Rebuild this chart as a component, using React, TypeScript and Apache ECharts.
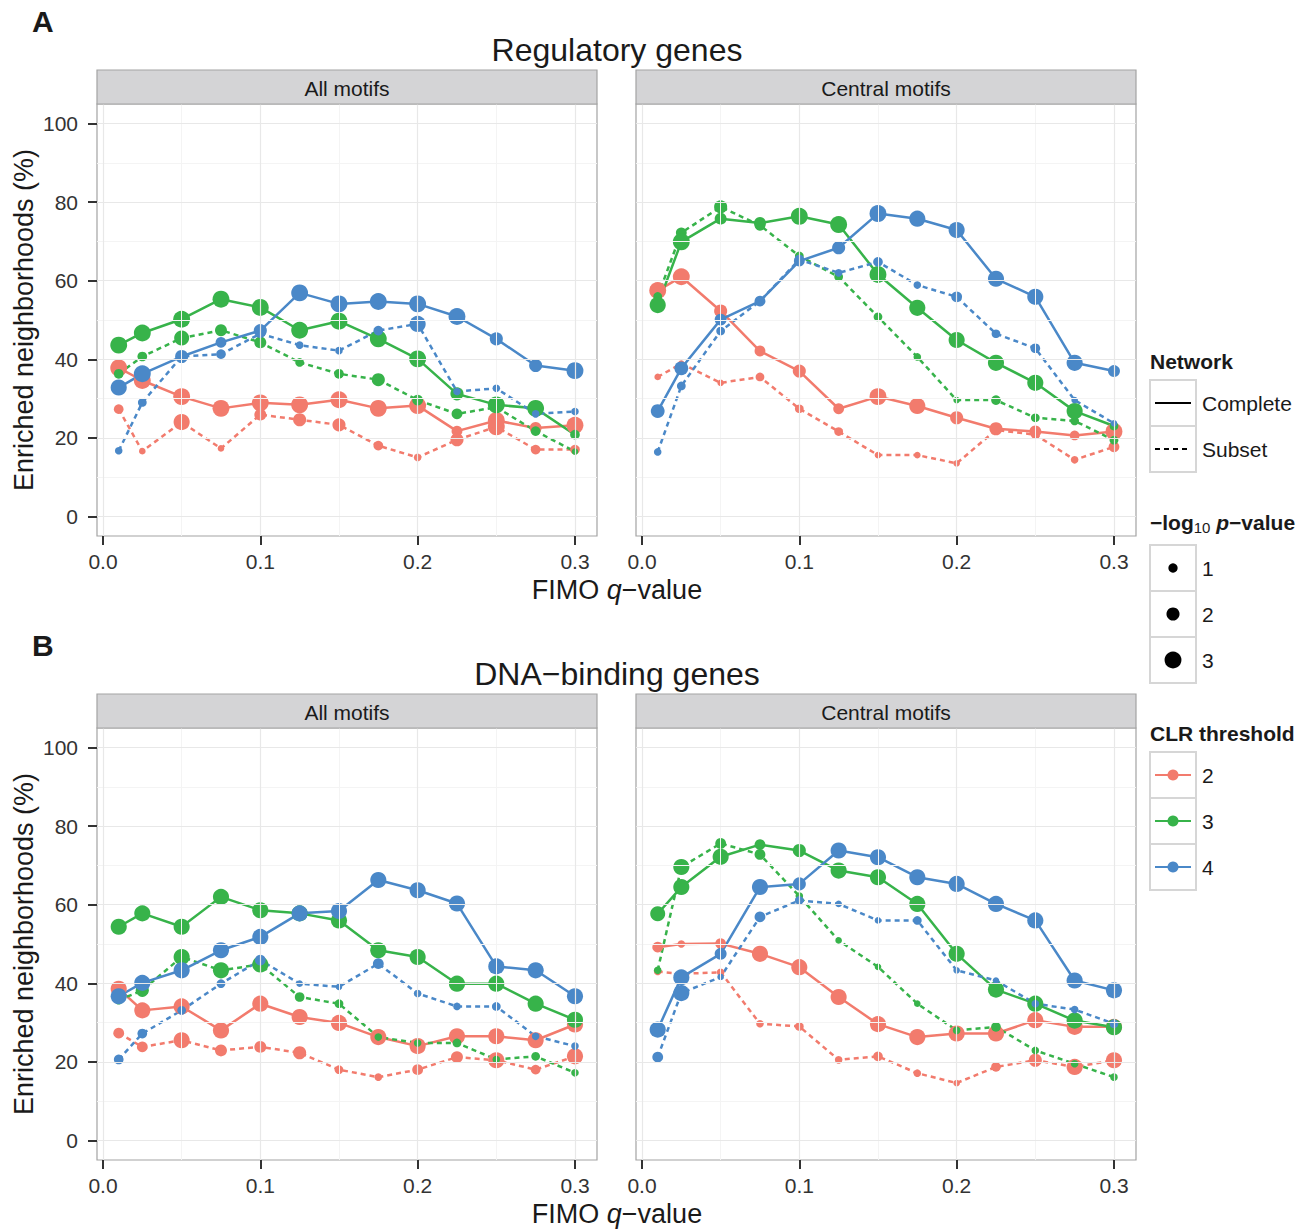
import React, { useEffect, useRef } from 'react';
import * as echarts from 'echarts';

// ---------- data ----------
const Q = [0.01, 0.025, 0.05, 0.075, 0.1, 0.125, 0.15, 0.175, 0.2, 0.225, 0.25, 0.275, 0.3];
const X_TICKS = [0, 0.1, 0.2, 0.3];
const Y_TICKS = [0, 20, 40, 60, 80, 100];
const X_MINOR = [0.05, 0.15, 0.25];
const Y_MINOR = [10, 30, 50, 70, 90];
const CLR_LEVELS = ['2', '3', '4'];
const NETWORKS = ['Complete', 'Subset'];
const PVALUE_LEVELS = [1, 2, 3];
const ROW_TITLES = ['Regulatory genes', 'DNA\u2212binding genes'];
const ROW_LETTERS = ['A', 'B'];
const STRIP_LABELS = ['All motifs', 'Central motifs'];

// Regulatory genes, All motifs
const REG_ALL_C2 = [37.8, 34.6, 30.5, 27.5, 28.9, 28.4, 29.7, 27.5, 28.2, 21.7, 24.4, 22.5, 23.2];
const REG_ALL_C2_P = [3, 3, 3, 3, 3, 3, 3, 3, 3, 1.4, 3, 1.7, 3];
const REG_ALL_S2 = [27.3, 16.6, 24.0, 17.3, 25.9, 24.6, 23.3, 18.0, 15.0, 19.5, 22.8, 17.0, 17.0];
const REG_ALL_S2_P = [1.1, 0.3, 2.8, 0.3, 1.7, 2, 2, 1.1, 0.55, 2, 3, 1.1, 1.1];
const REG_ALL_C3 = [43.6, 46.7, 50.2, 55.3, 53.2, 47.4, 49.7, 45.2, 40.1, 31.2, 28.4, 27.5, 20.8];
const REG_ALL_C3_P = [3, 3, 3, 3, 3, 3, 3, 3, 3, 2, 3, 3, 1.1];
const REG_ALL_S3 = [36.3, 40.7, 45.4, 47.4, 44.3, 39.2, 36.3, 34.8, 29.6, 26.1, 27.8, 21.7, 16.5];
const REG_ALL_S3_P = [1.1, 1.1, 2.5, 1.7, 1.7, 0.85, 1.1, 2, 1.4, 1.4, 0.85, 1.1, 0.3];
const REG_ALL_C4 = [32.8, 36.3, 40.7, 44.3, 47.3, 56.9, 54.1, 54.7, 54.1, 50.9, 45.2, 38.4, 37.1];
const REG_ALL_C4_P = [2.8, 3, 2, 1.4, 2, 3, 3, 3, 3, 3, 2, 2, 3];
const REG_ALL_S4 = [16.7, 29.0, 40.7, 41.3, 46.5, 43.6, 42.2, 47.3, 49.0, 31.8, 32.6, 26.1, 26.7];
const REG_ALL_S4_P = [0.55, 0.85, 1, 1.1, 0.85, 0.55, 0.55, 1.1, 2.8, 0.55, 0.55, 0.55, 0.55];

// Regulatory genes, Central motifs
const REG_CEN_C2 = [57.5, 61.0, 52.3, 42.1, 37.0, 27.4, 30.5, 28.1, 25.1, 22.3, 21.6, 20.6, 21.6];
const REG_CEN_C2_P = [3, 3, 2, 1.4, 2, 1.4, 3, 2.8, 2, 2, 1.7, 1.1, 3];
const REG_CEN_S2 = [35.5, 38.9, 34.0, 35.5, 27.4, 21.6, 15.6, 15.6, 13.5, 22.0, 20.8, 14.4, 17.7];
const REG_CEN_S2_P = [0.3, 0.3, 0.3, 0.85, 0.85, 0.85, 0.3, 0.3, 0.3, 0.85, 0.85, 0.55, 1.4];
const REG_CEN_C3 = [53.8, 69.9, 75.8, 74.7, 76.4, 74.3, 61.6, 53.1, 44.9, 39.1, 34.0, 26.8, 23.0];
const REG_CEN_C3_P = [2.8, 3, 1.7, 1.7, 3, 3, 3, 2.8, 2.8, 2.8, 2.8, 2.8, 0.85];
const REG_CEN_S3 = [56.0, 72.2, 78.8, 74.1, 66.3, 61.0, 50.8, 40.6, 29.6, 29.6, 25.1, 24.3, 19.4];
const REG_CEN_S3_P = [0.85, 1.4, 2, 1.4, 0.85, 0.85, 0.85, 0.55, 0.3, 1.1, 0.85, 0.85, 0.85];
const REG_CEN_C4 = [26.8, 37.7, 50.1, 54.8, 65.0, 68.4, 77.1, 75.8, 72.9, 60.5, 55.9, 39.1, 37.0];
const REG_CEN_C4_P = [2.2, 2.2, 1.7, 1.4, 1.4, 2, 3, 2.8, 2.8, 2.8, 2.8, 2.8, 1.7];
const REG_CEN_S4 = [16.4, 33.2, 47.2, 54.8, 65.4, 62.0, 64.8, 58.9, 55.9, 46.5, 42.8, 29.6, 23.7];
const REG_CEN_S4_P = [0.55, 0.85, 0.85, 0.85, 1.1, 0.55, 1.1, 0.55, 1.4, 0.85, 1.1, 0.3, 0.3];

// DNA-binding genes, All motifs
const DNA_ALL_C2 = [38.6, 33.1, 34.1, 28.0, 34.8, 31.4, 29.9, 26.3, 24.0, 26.5, 26.5, 25.5, 29.5];
const DNA_ALL_C2_P = [2.8, 2.8, 2.8, 2.8, 2.8, 2.8, 2.8, 2.8, 2.8, 2.8, 2.8, 2.8, 2.8];
const DNA_ALL_S2 = [27.3, 23.8, 25.5, 22.9, 23.8, 22.3, 18.0, 16.1, 18.0, 21.2, 20.4, 18.0, 21.4];
const DNA_ALL_S2_P = [1.4, 1.4, 2.8, 1.7, 1.7, 2, 0.85, 0.55, 1.4, 1.7, 2.8, 1.1, 2.8];
const DNA_ALL_C3 = [54.4, 57.8, 54.4, 62.0, 58.6, 57.8, 56.0, 48.4, 46.7, 39.9, 39.9, 34.8, 30.7];
const DNA_ALL_C3_P = [2.8, 2.8, 2.8, 2.8, 2.8, 2.8, 2.8, 2.8, 2.8, 2.8, 2.8, 2.8, 2.8];
const DNA_ALL_S3 = [35.7, 38.2, 46.7, 43.3, 44.8, 36.5, 34.8, 26.3, 24.8, 24.8, 20.6, 21.4, 17.2];
const DNA_ALL_S3_P = [0.85, 2, 2.8, 2.8, 2.8, 1.1, 0.85, 0.55, 0.55, 0.85, 0.55, 0.85, 0.55];
const DNA_ALL_C4 = [36.7, 40.1, 43.3, 48.4, 51.8, 57.8, 58.4, 66.3, 63.7, 60.3, 44.3, 43.3, 36.7];
const DNA_ALL_C4_P = [2.8, 2.8, 2.8, 2.8, 2.8, 2.8, 2.8, 2.8, 2.8, 2.8, 2.8, 2.8, 2.8];
const DNA_ALL_S4 = [20.6, 27.2, 33.1, 39.9, 45.9, 39.9, 39.1, 45.0, 37.4, 34.1, 34.1, 26.5, 24.0];
const DNA_ALL_S4_P = [1.1, 1.1, 0.85, 0.85, 1.4, 0.3, 0.3, 1.4, 0.55, 0.55, 0.85, 0.55, 0.55];

// DNA-binding genes, Central motifs
const DNA_CEN_C2 = [49.2, 50.0, 50.1, 47.5, 44.1, 36.5, 29.6, 26.3, 27.2, 27.2, 30.6, 28.9, 28.9];
const DNA_CEN_C2_P = [1.4, 0.55, 1.4, 2.8, 2.8, 2.8, 2.8, 2.8, 2.8, 2.8, 2.8, 2.8, 2.8];
const DNA_CEN_S2 = [43.0, 42.4, 42.8, 29.7, 29.0, 20.5, 21.4, 17.1, 14.6, 18.7, 20.4, 18.7, 20.4];
const DNA_CEN_S2_P = [0.55, 0.55, 0.55, 0.55, 0.85, 0.55, 1.1, 0.55, 0.3, 1.1, 2, 2.8, 2.8];
const DNA_CEN_C3 = [57.7, 64.5, 72.2, 75.3, 73.8, 68.7, 67.0, 60.2, 47.5, 38.4, 34.8, 30.5, 28.8];
const DNA_CEN_C3_P = [2.5, 2.8, 2.8, 1.4, 2, 2.8, 2.8, 2.8, 2.8, 2.8, 2.8, 2.8, 2.8];
const DNA_CEN_S3 = [43.3, 69.6, 75.6, 72.8, 62.2, 50.9, 44.2, 34.8, 28.0, 28.9, 22.9, 19.5, 16.1];
const DNA_CEN_S3_P = [0.55, 2.8, 1.4, 1.4, 0.55, 0.3, 0.3, 0.3, 0.55, 1.1, 0.55, 0.55, 0.55];
const DNA_CEN_C4 = [28.2, 41.5, 47.5, 64.5, 65.3, 73.8, 72.1, 67.0, 65.3, 60.2, 56.0, 40.7, 38.2];
const DNA_CEN_C4_P = [2.8, 2.8, 1.7, 2.8, 2, 2.8, 2.8, 2.8, 2.8, 2.8, 2.8, 2.8, 2.8];
const DNA_CEN_S4 = [21.2, 37.5, 41.6, 56.9, 61.1, 60.2, 56.0, 56.0, 43.3, 40.7, 34.8, 33.3, 29.7];
const DNA_CEN_S4_P = [1.4, 2.8, 0.3, 1.4, 0.85, 0.3, 0.3, 0.85, 0.3, 0.3, 0.55, 0.55, 0.85];

const PANELS = [
  { row: 0, col: 0, complete: [REG_ALL_C2, REG_ALL_C3, REG_ALL_C4], completeP: [REG_ALL_C2_P, REG_ALL_C3_P, REG_ALL_C4_P], subset: [REG_ALL_S2, REG_ALL_S3, REG_ALL_S4], subsetP: [REG_ALL_S2_P, REG_ALL_S3_P, REG_ALL_S4_P] },
  { row: 0, col: 1, complete: [REG_CEN_C2, REG_CEN_C3, REG_CEN_C4], completeP: [REG_CEN_C2_P, REG_CEN_C3_P, REG_CEN_C4_P], subset: [REG_CEN_S2, REG_CEN_S3, REG_CEN_S4], subsetP: [REG_CEN_S2_P, REG_CEN_S3_P, REG_CEN_S4_P] },
  { row: 1, col: 0, complete: [DNA_ALL_C2, DNA_ALL_C3, DNA_ALL_C4], completeP: [DNA_ALL_C2_P, DNA_ALL_C3_P, DNA_ALL_C4_P], subset: [DNA_ALL_S2, DNA_ALL_S3, DNA_ALL_S4], subsetP: [DNA_ALL_S2_P, DNA_ALL_S3_P, DNA_ALL_S4_P] },
  { row: 1, col: 1, complete: [DNA_CEN_C2, DNA_CEN_C3, DNA_CEN_C4], completeP: [DNA_CEN_C2_P, DNA_CEN_C3_P, DNA_CEN_C4_P], subset: [DNA_CEN_S2, DNA_CEN_S3, DNA_CEN_S4], subsetP: [DNA_CEN_S2_P, DNA_CEN_S3_P, DNA_CEN_S4_P] },
];

// ---------- styles / layout ----------
const FONT = "'Liberation Sans', Arial, Helvetica, sans-serif";
const CLR_COLORS = ['#F27B6D', '#37B34A', '#4A88C8'];
const DASH = [5, 4];
const COLS = [97, 636];
const ROWS = [104, 728];
const PANEL_W = 500;
const PANEL_H = 432;
const STRIP_H = 34;
const X_MIN = -0.0038;
const X_MAX = 0.314;
const Y_MIN = -5;
const Y_MAX = 105;
const BORDER = '#a3a3a3';
const MAJOR = '#e8e8e8';
const MINOR = '#f4f4f4';
const TICK_COLOR = '#333333';
const TEXT = '#1a1a1a';
const LINE_W = 2.5;

const symSize = (p: number) => 5.5 + 3.8 * p;

function buildOption() {
  const grid: any[] = [];
  const xAxis: any[] = [];
  const yAxis: any[] = [];
  const series: any[] = [];
  const graphic: any[] = [];

  PANELS.forEach((pd, i) => {
    const left = COLS[pd.col];
    const top = ROWS[pd.row];
    grid.push({
      left, top, width: PANEL_W, height: PANEL_H, show: true,
      backgroundColor: '#ffffff', borderColor: BORDER, borderWidth: 1.2,
      containLabel: false, outerBoundsMode: 'none',
    });
    xAxis.push({
      type: 'value', gridIndex: i, min: X_MIN, max: X_MAX, position: 'bottom',
      axisLine: { show: false, onZero: false }, splitLine: { show: false },
      axisTick: { show: true, inside: false, length: 9, lineStyle: { color: TICK_COLOR, width: 2 }, customValues: X_TICKS },
      axisLabel: {
        customValues: X_TICKS, showMinLabel: true, showMaxLabel: true,
        formatter: (v: number) => (X_TICKS.some((t) => Math.abs(t - v) < 1e-9) ? v.toFixed(1) : ''),
        fontSize: 21, color: TICK_COLOR, margin: 15, fontFamily: FONT,
      },
    });
    yAxis.push({
      type: 'value', gridIndex: i, min: Y_MIN, max: Y_MAX, position: 'left',
      axisLine: { show: false, onZero: false }, splitLine: { show: false },
      axisTick: { show: pd.col === 0, inside: false, length: 9, lineStyle: { color: TICK_COLOR, width: 2 }, customValues: Y_TICKS },
      axisLabel: {
        show: pd.col === 0, customValues: Y_TICKS,
        formatter: (v: number) => (Y_TICKS.some((t) => Math.abs(t - v) < 1e-9) ? String(v) : ''),
        fontSize: 21, color: TICK_COLOR, margin: 19, fontFamily: FONT,
      },
    });

    // grid lines via markLine
    const ml: any[] = [];
    Y_MINOR.forEach((v) => ml.push({ yAxis: v, lineStyle: { color: MINOR, width: 1, type: 'solid' } }));
    X_MINOR.forEach((v) => ml.push({ xAxis: v, lineStyle: { color: MINOR, width: 1, type: 'solid' } }));
    Y_TICKS.forEach((v) => ml.push({ yAxis: v, lineStyle: { color: MAJOR, width: 1.2, type: 'solid' } }));
    X_TICKS.forEach((v) => ml.push({ xAxis: v, lineStyle: { color: MAJOR, width: 1.2, type: 'solid' } }));
    series.push({
      type: 'line', xAxisIndex: i, yAxisIndex: i, data: [], silent: true, z: 1,
      markLine: { silent: true, symbol: ['none', 'none'], label: { show: false }, emphasis: { disabled: true }, data: ml },
    });

    // lines
    CLR_LEVELS.forEach((_, k) => {
      [pd.complete[k], pd.subset[k]].forEach((vals, n) => {
        series.push({
          type: 'line', xAxisIndex: i, yAxisIndex: i, z: 2, silent: true,
          showSymbol: false, symbol: 'none',
          data: Q.map((x, j) => [x, vals[j]]),
          lineStyle: { color: CLR_COLORS[k], width: LINE_W, type: n === 0 ? 'solid' : DASH },
        });
      });
    });
    // points
    CLR_LEVELS.forEach((_, k) => {
      [[pd.subset[k], pd.subsetP[k]], [pd.complete[k], pd.completeP[k]]].forEach(([vals, ps]) => {
        series.push({
          type: 'scatter', xAxisIndex: i, yAxisIndex: i, z: 3, silent: true,
          data: Q.map((x, j) => [x, vals[j], ps[j]]),
          symbol: 'circle',
          symbolSize: (d: number[]) => symSize(d[2]),
          itemStyle: { color: CLR_COLORS[k], opacity: 1 },
        });
      });
    });

    // strip
    graphic.push({
      type: 'rect', shape: { x: left, y: top - STRIP_H, width: PANEL_W, height: STRIP_H },
      style: { fill: '#d4d4d6', stroke: BORDER, lineWidth: 1.2 }, z: 10,
    });
    graphic.push({
      type: 'text', x: left + PANEL_W / 2, y: top - STRIP_H / 2 + 1, z: 11,
      style: { text: STRIP_LABELS[pd.col], fill: TEXT, fontSize: 21, fontFamily: FONT, align: 'center', verticalAlign: 'middle' },
    });
  });

  // row titles, letters, axis titles
  ROWS.forEach((top, r) => {
    graphic.push({
      type: 'text', x: 32, y: top - 83, z: 11,
      style: { text: ROW_LETTERS[r], fill: TEXT, fontSize: 30, fontWeight: 'bold', fontFamily: FONT, align: 'left', verticalAlign: 'middle' },
    });
    graphic.push({
      type: 'text', x: 617, y: top - 54, z: 11,
      style: { text: ROW_TITLES[r], fill: TEXT, fontSize: 32, fontFamily: FONT, align: 'center', verticalAlign: 'middle' },
    });
    graphic.push({
      type: 'text', x: 617, y: top + 486, z: 11,
      style: {
        text: '{n|FIMO }{i|q}{n|\u2212value}', align: 'center', verticalAlign: 'middle',
        rich: {
          n: { fontSize: 27, fontFamily: FONT, fill: TEXT },
          i: { fontSize: 27, fontFamily: FONT, fill: TEXT, fontStyle: 'italic' },
        },
      },
    });
    graphic.push({
      type: 'text', x: 24, y: top + 216, rotation: Math.PI / 2, z: 11,
      style: { text: 'Enriched neighborhoods (%)', fill: TEXT, fontSize: 27, fontFamily: FONT, align: 'center', verticalAlign: 'middle' },
    });
  });

  // legend
  const LX = 1150;
  const KEY = 46;
  const keyBox = (y: number) => ({
    type: 'rect', shape: { x: LX, y, width: KEY, height: KEY },
    style: { fill: '#ffffff', stroke: '#d6d6d6', lineWidth: 2 }, z: 10,
  });
  const legendText = (text: string, y: number) => ({
    type: 'text', x: LX + 52, y, z: 11,
    style: { text, fill: TEXT, fontSize: 21, fontFamily: FONT, align: 'left', verticalAlign: 'middle' },
  });
  const legendTitle = (text: string, y: number) => ({
    type: 'text', x: LX, y, z: 11,
    style: { text, fill: TEXT, fontSize: 21, fontWeight: 'bold', fontFamily: FONT, align: 'left', verticalAlign: 'middle' },
  });

  graphic.push(legendTitle('Network', 361));
  NETWORKS.forEach((name, n) => {
    const y0 = 380 + n * KEY;
    graphic.push(keyBox(y0));
    graphic.push({
      type: 'line', shape: { x1: LX + 5, y1: y0 + KEY / 2, x2: LX + KEY - 5, y2: y0 + KEY / 2 }, z: 11,
      style: { stroke: '#000000', lineWidth: 2.2, lineDash: n === 0 ? null : DASH },
    });
    graphic.push(legendText(name, y0 + KEY / 2));
  });

  graphic.push({
    type: 'text', x: LX, y: 522, z: 11,
    style: {
      text: '{b|\u2212log}{s|10}{bi| p}{b|\u2212value}', align: 'left', verticalAlign: 'middle',
      rich: {
        b: { fontSize: 21, fontWeight: 'bold', fontFamily: FONT, fill: TEXT, lineHeight: 26 },
        s: { fontSize: 15, fontFamily: FONT, fill: TEXT, lineHeight: 14, verticalAlign: 'bottom' },
        bi: { fontSize: 21, fontWeight: 'bold', fontStyle: 'italic', fontFamily: FONT, fill: TEXT, lineHeight: 26 },
      },
    },
  });
  PVALUE_LEVELS.forEach((p, n) => {
    const y0 = 545 + n * KEY;
    graphic.push(keyBox(y0));
    graphic.push({
      type: 'circle', shape: { cx: LX + KEY / 2, cy: y0 + KEY / 2, r: symSize(p) / 2 }, z: 11,
      style: { fill: '#000000' },
    });
    graphic.push(legendText(String(p), y0 + KEY / 2));
  });

  graphic.push(legendTitle('CLR threshold', 733));
  CLR_LEVELS.forEach((lvl, k) => {
    const y0 = 752 + k * KEY;
    graphic.push(keyBox(y0));
    graphic.push({
      type: 'line', shape: { x1: LX + 5, y1: y0 + KEY / 2, x2: LX + KEY - 5, y2: y0 + KEY / 2 }, z: 11,
      style: { stroke: CLR_COLORS[k], lineWidth: 2.2 },
    });
    graphic.push({
      type: 'circle', shape: { cx: LX + KEY / 2, cy: y0 + KEY / 2, r: 5.5 }, z: 12,
      style: { fill: CLR_COLORS[k] },
    });
    graphic.push(legendText(lvl, y0 + KEY / 2));
  });

  return {
    animation: false,
    backgroundColor: '#ffffff',
    textStyle: { fontFamily: FONT },
    grid, xAxis, yAxis, series, graphic,
  };
}

export default function App() {
  const ref = useRef<HTMLDivElement>(null);
  useEffect(() => {
    if (!ref.current) return;
    const chart = echarts.init(ref.current, undefined, { renderer: 'svg' });
    chart.setOption(buildOption() as any);
    return () => chart.dispose();
  }, []);
  return (
    <div
      ref={ref}
      style={{ position: 'fixed', left: 0, top: 0, width: 1308, height: 1229, background: '#fff' }}
    />
  );
}
